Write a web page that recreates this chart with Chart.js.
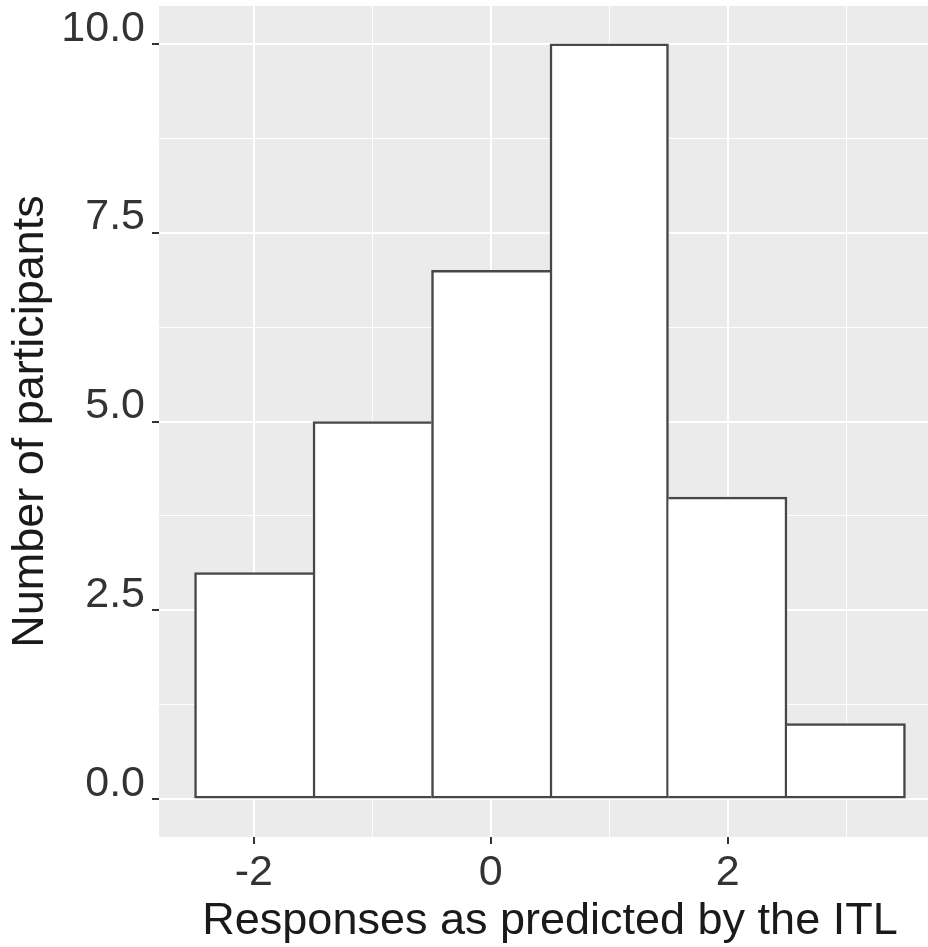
<!DOCTYPE html>
<html>
<head>
<meta charset="utf-8">
<script src="https://cdn.jsdelivr.net/npm/chart.js@4"></script>
<style>
  html, body { margin: 0; padding: 0; background: #fff; overflow: hidden; }
  #wrap { width: 941px; height: 947px; }
</style>
</head>
<body>
<div id="wrap"><canvas id="myChart" width="941" height="947"></canvas></div>
<script>
// histogram bins (centres) and counts
const bins = [-2, -1, 0, 1, 2, 3];
const counts = [3, 5, 7, 10, 4, 1];

// axis ticks
const xMajor = [-2, 0, 2];
const xMinor = [-1, 1, 3];
const yMajor = [0, 2.5, 5, 7.5, 10];
const yMinor = [1.25, 3.75, 6.25, 8.75];

const FONT = "'Liberation Sans', Arial, sans-serif";

const panelBg = {
    id: 'panelBg',
    beforeDraw(chart) {
        const a = chart.chartArea;
        const c = chart.ctx;
        c.save();
        c.fillStyle = '#EBEBEB';
        c.fillRect(a.left, a.top, a.right - a.left, a.bottom - a.top);
        c.restore();
    }
};

const isMajor = (list, c) => !!(c.tick && list.includes(c.tick.value));

// avoid doubled borders on shared bar edges
const BW = 2.5;
function edges(ctx) {
    const i = ctx.dataIndex;
    const last = counts.length - 1;
    return {
        top: BW,
        bottom: BW,
        left: (i === 0 || counts[i] >= counts[i - 1]) ? BW : 0,
        right: (i === last || counts[i] > counts[i + 1]) ? BW : 0
    };
}

const ctx = document.getElementById('myChart');
const data = {
    datasets: [{
        data: bins.map((b, i) => ({ x: b, y: counts[i] })),
        backgroundColor: '#FFFFFF',
        borderColor: '#474747',
        borderWidth: edges,
        borderSkipped: false,
        barPercentage: 1,
        categoryPercentage: 1
    }]
};

const config = {
    type: 'bar',
    data: data,
    plugins: [panelBg],
    options: {
        responsive: false,
        animation: false,
        devicePixelRatio: 1,
        layout: { padding: { top: 6, right: 0, left: 0, bottom: 0 } },
        plugins: { legend: { display: false }, tooltip: { enabled: false } },
        scales: {
            x: {
                type: 'linear',
                offset: false,
                min: -2.8,
                max: 3.8,
                afterBuildTicks: s => { s.ticks = [...xMajor, ...xMinor].sort((a, b) => a - b).map(v => ({ value: v })); },
                afterFit: s => { s.height = 110; s.paddingLeft = 0; s.paddingRight = 0; },
                border: { display: false },
                grid: {
                    offset: false,
                    color: '#FFFFFF',
                    lineWidth: c => isMajor(xMajor, c) ? 2 : 1,
                    tickLength: 7,
                    tickColor: c => isMajor(xMajor, c) ? '#333333' : 'rgba(0,0,0,0)',
                    tickWidth: 2
                },
                ticks: {
                    autoSkip: false,
                    maxRotation: 0,
                    padding: 3,
                    color: '#333333',
                    font: { family: FONT, size: 43 },
                    callback: v => xMajor.includes(v) ? String(v) : ''
                },
                title: {
                    display: true,
                    text: 'Responses as predicted by the ITL',
                    color: '#1A1A1A',
                    font: { family: FONT, size: 45, lineHeight: 1.15 },
                    padding: 0
                }
            },
            y: {
                min: -0.5,
                max: 10.5,
                afterBuildTicks: s => { s.ticks = [...yMajor, ...yMinor].sort((a, b) => a - b).map(v => ({ value: v })); },
                afterFit: s => { s.width = 159; s.paddingTop = 0; s.paddingBottom = 0; },
                border: { display: false },
                grid: {
                    color: '#FFFFFF',
                    lineWidth: c => isMajor(yMajor, c) ? 2 : 1,
                    tickLength: 7,
                    tickColor: c => isMajor(yMajor, c) ? '#333333' : 'rgba(0,0,0,0)',
                    tickWidth: 2
                },
                ticks: {
                    autoSkip: false,
                    padding: 7,
                    labelOffset: -15,
                    color: '#333333',
                    font: { family: FONT, size: 43 },
                    callback: v => yMajor.includes(v) ? v.toFixed(1) : ''
                },
                title: {
                    display: true,
                    text: 'Number of participants',
                    color: '#1A1A1A',
                    font: { family: FONT, size: 45, lineHeight: 1.2 },
                    padding: { top: 4, bottom: 0 }
                }
            }
        }
    }
};

chart = new Chart(ctx, config);
</script>
</body>
</html>
